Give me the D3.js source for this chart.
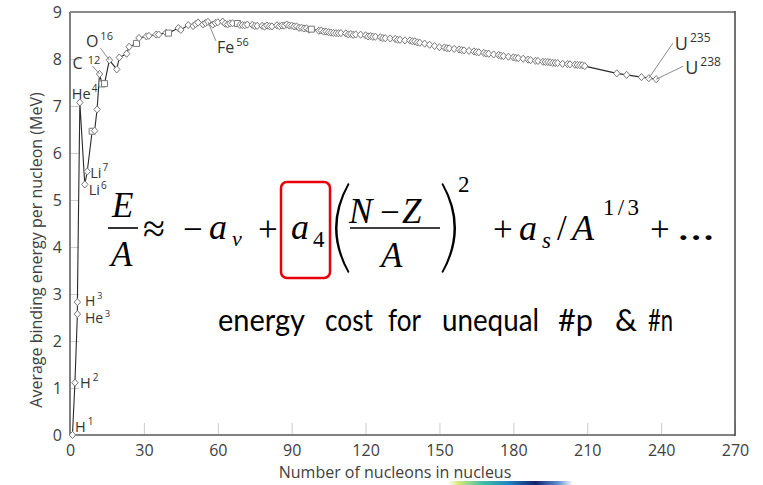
<!DOCTYPE html>
<meta charset="utf-8">
<script src="https://d3js.org/d3.v7.min.js"></script>
<style>
  body { margin: 0; background: #fff; }
  #chart text { font-family: "Open Sans", "DejaVu Sans", sans-serif; }
  #chart .math text { font-family: "Liberation Serif", "Times New Roman", serif; }
</style>
<div id="chart"></div>
<script>

// mass number A of each plotted nuclide (in plotting order)
const massNumber = [1, 2, 3, 3, 4, 6, 7, 9, 10, 11, 12, 13, 14, 16, 19, 20, 23, 24, 27, 28,
  31, 32, 35, 36, 39, 40, 44, 45, 48, 50, 51, 52, 54, 55, 56, 58, 59, 60, 62, 63,
  64, 65, 66, 68, 69, 70, 71, 72, 74, 75, 76, 78, 79, 80, 81, 82, 84, 85, 86, 87,
  88, 89, 90, 91, 92, 93, 94, 95, 96, 97, 98, 101, 102, 103, 104, 105, 106, 107, 108, 109,
  110, 112, 113, 114, 115, 116, 118, 120, 121, 122, 123, 124, 126, 127, 128, 130, 132, 133, 134, 136,
  138, 139, 140, 141, 142, 144, 146, 148, 150, 152, 153, 154, 156, 158, 159, 160, 162, 164, 165, 166,
  168, 169, 170, 172, 174, 175, 176, 178, 180, 181, 182, 184, 186, 187, 189, 190, 192, 193, 194, 195,
  196, 197, 198, 200, 202, 203, 205, 206, 207, 208, 209, 222, 226, 232, 235, 238];

// average binding energy per nucleon (MeV), same order
const bindingEnergy = [0, 1.112, 2.573, 2.827, 7.074, 5.332, 5.606, 6.463, 6.475, 6.928, 7.680, 7.470, 7.476, 7.976, 7.779, 8.032, 8.112, 8.261, 8.332, 8.448,
  8.481, 8.493, 8.520, 8.520, 8.557, 8.551, 8.658, 8.619, 8.723, 8.701, 8.742, 8.776, 8.737, 8.765, 8.790, 8.732, 8.768, 8.781, 8.795, 8.752,
  8.736, 8.757, 8.760, 8.756, 8.724, 8.722, 8.718, 8.732, 8.725, 8.701, 8.705, 8.706, 8.688, 8.711, 8.696, 8.693, 8.717, 8.698, 8.712, 8.711,
  8.733, 8.714, 8.710, 8.693, 8.693, 8.664, 8.667, 8.649, 8.654, 8.624, 8.635, 8.601, 8.607, 8.584, 8.584, 8.570, 8.560, 8.554, 8.550, 8.548,
  8.551, 8.545, 8.523, 8.532, 8.514, 8.523, 8.517, 8.505, 8.480, 8.488, 8.472, 8.474, 8.463, 8.445, 8.443, 8.437, 8.428, 8.410, 8.408, 8.396,
  8.394, 8.378, 8.376, 8.354, 8.346, 8.327, 8.304, 8.277, 8.250, 8.245, 8.229, 8.227, 8.215, 8.202, 8.189, 8.184, 8.173, 8.161, 8.147, 8.142,
  8.130, 8.115, 8.112, 8.097, 8.084, 8.069, 8.061, 8.049, 8.034, 8.023, 8.018, 8.005, 7.987, 7.976, 7.962, 7.958, 7.941, 7.938, 7.936, 7.927,
  7.918, 7.916, 7.914, 7.899, 7.892, 7.887, 7.878, 7.875, 7.870, 7.868, 7.848, 7.694, 7.662, 7.615, 7.591, 7.570];

// nuclides drawn with a square marker instead of a diamond
const squareMarkers = [9, 13, 14, 27, 40, 68, 98];

const xTicks = [0, 30, 60, 90, 120, 150, 180, 210, 240, 270];
const yTicks = [0, 1, 2, 3, 4, 5, 6, 7, 8, 9];

// labelled nuclides: element, mass number (superscript), which point (index into the arrays)
const labelElement = ["H", "H", "H", "He", "He", "Li", "Li", "C", "O", "Fe", "U", "U"];
const labelMass = ["1", "2", "3", "3", "4", "6", "7", "12", "16", "56", "235", "238"];
const labelPoint = [0, 1, 3, 2, 4, 5, 6, 10, 13, massNumber.indexOf(56), massNumber.indexOf(235), massNumber.indexOf(238)];

// label placement relative to its point
const labelLayout = [
  {dx: 2.5, dy: -3, size: 14.5, sx: 2},
  {dx: 5, dy: 5, size: 14.5, sx: 2},
  {dx: 7.5, dy: 3.5, size: 14, sx: 2},
  {dx: 7.5, dy: 9, size: 14, sx: 2},
  {dx: -8, dy: -4, size: 14.5, sx: 1},
  {dx: 4, dy: 11, size: 14.5, sx: 1},
  {dx: 3, dy: 6, size: 14.5, sx: 1},
  {dx: -27, dy: -5, size: 16, sx: 5, sup: 0.3, leader: [-7, -8]},
  {dx: -23.5, dy: -13, size: 16, sx: 2, leader: [-9, -12]},
  {dx: 9, dy: 31, size: 16, sx: 2, leader: [8, 19]},
  {dx: 26, dy: -28, size: 18, sx: 2, leader: [24, -35]},
  {dx: 29, dy: -5, size: 18, sx: 2, leader: [27, -13]}
];

var width = 763, height = 485;

var svg = d3.select("#chart")
  .append("svg")
    .attr("width", width)
    .attr("height", height);

var x = d3.scaleLinear().domain([0, 270]).range([70, 735]);
var y = d3.scaleLinear().domain([0, 9]).range([435, 12]);

// axes with short inner ticks
var xAxis = svg.append("g")
  .attr("transform", "translate(0," + y(0) + ")")
  .call(d3.axisBottom(x).tickValues(xTicks).tickSizeInner(-12).tickSizeOuter(0).tickPadding(10));
var yAxis = svg.append("g")
  .attr("transform", "translate(" + x(0) + ",0)")
  .call(d3.axisLeft(y).tickValues(yTicks).tickSizeInner(-9).tickSizeOuter(0).tickPadding(8));

[xAxis, yAxis].forEach(function(g) {
  g.select(".domain").remove();
  g.selectAll(".tick line").attr("stroke", "#cccccc");
  g.selectAll(".tick text")
    .attr("fill", "#404040")
    .style("font-size", "16px")
    .style("font-family", '"Open Sans", sans-serif');
});

// frame
svg.append("line").attr("x1", x(0)).attr("x2", x(270)).attr("y1", y(9)).attr("y2", y(9))
  .attr("stroke", "#8a8a8a").attr("stroke-width", 2);
svg.append("line").attr("x1", x(0)).attr("x2", x(270)).attr("y1", y(0)).attr("y2", y(0))
  .attr("stroke", "#808080").attr("stroke-width", 2);
svg.append("line").attr("x1", x(0)).attr("x2", x(0)).attr("y1", y(9)).attr("y2", y(0))
  .attr("stroke", "#808080").attr("stroke-width", 2);
svg.append("line").attr("x1", x(270)).attr("x2", x(270)).attr("y1", y(9) - 1).attr("y2", y(0) + 1)
  .attr("stroke", "#444").attr("stroke-width", 1.5);

// axis titles
svg.append("text")
  .attr("x", 395).attr("y", 478)
  .attr("text-anchor", "middle")
  .attr("fill", "#404040")
  .style("font-size", "16px")
  .text("Number of nucleons in nucleus");

svg.append("text")
  .attr("transform", "translate(42,250) rotate(-90)")
  .attr("text-anchor", "middle")
  .attr("fill", "#404040")
  .style("font-size", "16px")
  .text("Average binding energy per nucleon (MeV)");

// the curve
var idx = d3.range(massNumber.length);
var line = d3.line()
  .x(function(i) { return x(massNumber[i]); })
  .y(function(i) { return y(bindingEnergy[i]); });

svg.append("path")
  .datum(idx)
  .attr("d", line)
  .attr("fill", "none")
  .attr("stroke", "#2a2a2a")
  .attr("stroke-width", 1.1);

svg.selectAll(".pt")
  .data(idx)
  .enter()
  .append("path")
    .attr("class", "pt")
    .attr("transform", function(i) { return "translate(" + x(massNumber[i]) + "," + y(bindingEnergy[i]) + ")"; })
    .attr("d", function(i) {
      return squareMarkers.includes(massNumber[i]) ? "M-3,-3H3V3H-3Z" : "M0,-3.6L3.2,0L0,3.6L-3.2,0Z";
    })
    .attr("fill", "#fff")
    .attr("stroke", "#7a7a7a")
    .attr("stroke-width", 1);

// nuclide labels
labelPoint.forEach(function(p, k) {
  var px = x(massNumber[p]), py = y(bindingEnergy[p]);
  var lay = labelLayout[k];
  if (lay.leader) {
    svg.append("line")
      .attr("x1", px).attr("y1", py)
      .attr("x2", px + lay.leader[0]).attr("y2", py + lay.leader[1])
      .attr("stroke", "#8c8c8c").attr("stroke-width", 1);
  }
  var t = svg.append("text")
    .attr("x", px + lay.dx).attr("y", py + lay.dy)
    .attr("fill", "#333")
    .style("font-size", lay.size + "px")
    .text(labelElement[k]);
  t.append("tspan")
    .attr("dx", lay.sx).attr("dy", -lay.size * (lay.sup || 0.45))
    .style("font-size", Math.round(lay.size * 0.66) + "px")
    .text(labelMass[k]);
});

// formula overlay
var math = svg.append("g").attr("class", "math");
var glyphs = [
  ["E", 112, 217, 35, true], ["A", 111, 266, 35, true],
  ["\u2248", 143, 242, 40, false], ["\u2212", 183, 241, 35, false],
  ["a", 209, 239, 36, true], ["v", 232, 246, 22, true],
  ["+", 258, 241, 35, false],
  ["a", 291, 239, 36, true], ["4", 313, 247, 23, false],
  ["N", 349, 223, 35, true], ["\u2212", 380, 224, 35, false], ["Z", 402, 223, 35, true],
  ["A", 381, 267, 35, true], ["2", 458, 192, 23, false],
  ["+", 493, 241, 35, false], ["a", 519, 240, 36, true], ["s", 542, 248, 23, true],
  ["/", 557, 240, 35, false], ["A", 572, 240, 36, true],
  ["+", 650, 241, 35, false]
];
glyphs.forEach(function(g) {
  math.append("text")
    .attr("x", g[1]).attr("y", g[2])
    .style("font-size", g[3] + "px")
    .style("font-style", g[4] ? "italic" : "normal")
    .attr("fill", "#000")
    .text(g[0]);
});
math.append("text")
  .attr("x", 603).attr("y", 215)
  .attr("textLength", 36).attr("lengthAdjust", "spacing")
  .style("font-size", "23px")
  .text("1/3");
math.append("text")
  .attr("x", 677).attr("y", 240)
  .attr("textLength", 38).attr("lengthAdjust", "spacingAndGlyphs")
  .style("font-size", "40px")
  .text("...");

math.append("line").attr("x1", 108).attr("x2", 138).attr("y1", 228).attr("y2", 228)
  .attr("stroke", "#000").attr("stroke-width", 1.6);
math.append("line").attr("x1", 350).attr("x2", 440).attr("y1", 228).attr("y2", 228)
  .attr("stroke", "#000").attr("stroke-width", 1.6);
math.append("path").attr("d", "M348,183Q322,228 348,273L349.5,272Q325.5,228 349.5,184Z").attr("fill", "#000");
math.append("path").attr("d", "M443,183Q469,228 443,273L441.5,272Q465.5,228 441.5,184Z").attr("fill", "#000");

math.append("rect")
  .attr("x", 281).attr("y", 182).attr("width", 49).attr("height", 96)
  .attr("rx", 6)
  .attr("fill", "none")
  .attr("stroke", "#e5000a")
  .attr("stroke-width", 2.5);

// caption
const captionWords = ["energy", "cost", "for", "unequal", "#p", "&", "#n"];
const captionStart = [218, 325, 388, 442, 558, 615, 648];
const captionWidth = [87, 48, 33, 97, 35, 22, 25];
captionWords.forEach(function(w, i) {
  svg.append("text")
    .attr("x", captionStart[i]).attr("y", 331)
    .attr("textLength", captionWidth[i]).attr("lengthAdjust", "spacingAndGlyphs")
    .attr("fill", "#000")
    .style("font-size", "31px")
    .style("font-family", "Lato, sans-serif")
    .text(w);
});

// bit of an image peeking in at the bottom edge
var grad = svg.append("defs").append("linearGradient").attr("id", "strip");
[["0%", "#ffffff"], ["8%", "#d9ea7a"], ["28%", "#3fbfa6"], ["48%", "#1f86c0"], ["70%", "#12236e"], ["88%", "#5d8fd0"], ["100%", "#ffffff"]]
  .forEach(function(s) { grad.append("stop").attr("offset", s[0]).attr("stop-color", s[1]); });
svg.append("rect").attr("x", 448).attr("y", 481).attr("width", 125).attr("height", 4).attr("fill", "url(#strip)");

</script>
